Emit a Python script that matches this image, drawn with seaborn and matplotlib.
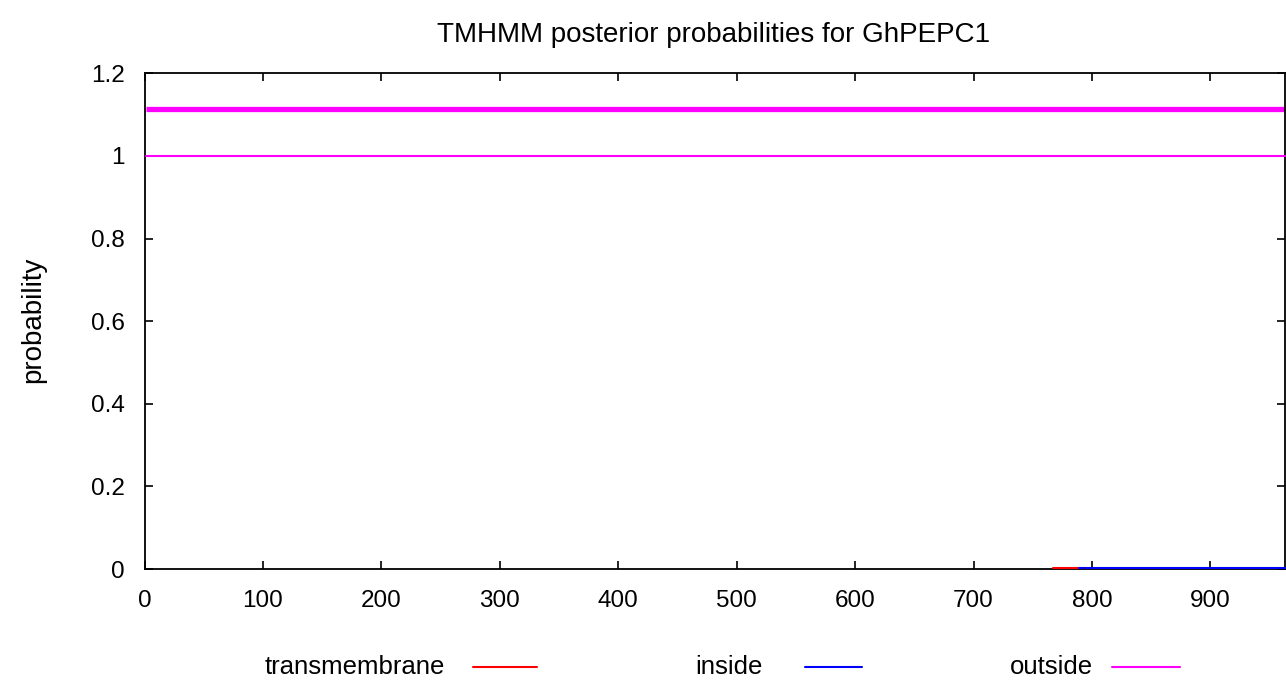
#!/usr/bin/env python

# TMHMM posterior probability plot for GhPEPC1

import pandas as pd
import seaborn as sns
from matplotlib import pyplot as plt
from matplotlib.lines import Line2D

# sequence length and the segments
seq_len = 963

# posterior probability of "outside" over the whole sequence
outside_pos = [1, seq_len]
outside_prob = [1.0, 1.0]

# tiny transmembrane / inside probabilities at the C-terminal end
tm_pos = [767, 789]
tm_prob = [0.003, 0.003]
inside_pos = [789, seq_len]
inside_prob = [0.003, 0.003]

# predicted topology bar (drawn above the curves)
topo_pos = [1, seq_len]
topo_level = [1.113, 1.113]

series = ["transmembrane", "inside", "outside"]
colors = {"transmembrane": "#ff0000", "inside": "#0000ff", "outside": "#ff00ff"}

df = pd.concat([
    pd.DataFrame({"pos": tm_pos, "prob": tm_prob, "kind": "transmembrane"}),
    pd.DataFrame({"pos": inside_pos, "prob": inside_prob, "kind": "inside"}),
    pd.DataFrame({"pos": outside_pos, "prob": outside_prob, "kind": "outside"}),
])

sns.set_theme(style="ticks")
plt.rcParams["font.family"] = ["Liberation Sans", "DejaVu Sans"]
plt.rcParams["text.color"] = "black"

W, H = 1286, 682
fig = plt.figure(figsize=(W / 100, H / 100), dpi=100)
ax = fig.add_axes([144.5 / W, 1 - 569 / H, 1140.5 / W, 495.7 / H])

ax = sns.lineplot(x="pos", y="prob", hue="kind", data=df, palette=colors,
                  hue_order=series, linewidth=1.5, ax=ax, estimator=None,
                  sort=False, legend=False)
# let the near-zero curves sit on top of the bottom frame line
for ln in ax.lines:
    ln.set_zorder(5)
    ln.set_clip_on(False)

# thick line for the predicted topology
ax.plot(topo_pos, topo_level, color="#ff00ff", linewidth=3.8, solid_capstyle="butt")

ax.set_xlim(0, seq_len)
ax.set_ylim(0, 1.2)
ax.set_xticks(range(0, 1000, 100))
ax.set_yticks([0, 0.2, 0.4, 0.6, 0.8, 1, 1.2])
ax.set_yticklabels(["0", "0.2", "0.4", "0.6", "0.8", "1", "1.2"])
ax.tick_params(direction="in", length=6, width=1.2, top=True, right=True,
               labelsize=17.5, colors="black")
ax.tick_params(axis="x", pad=15)
ax.tick_params(axis="y", pad=14)
for s in ax.spines.values():
    s.set_linewidth(1.3)
    s.set_color("black")

ax.set_xlabel("")
ax.set_ylabel("")
fig.text(33 / W, 1 - 320 / H, "probability", rotation=90, ha="center",
         va="center", fontsize=20)
fig.text(714 / W, 1 - 35 / H, "TMHMM posterior probabilities for GhPEPC1",
         ha="center", va="center", fontsize=20)

# legend below the axes: label first, then the line sample
leg_text_end = [445, 763, 1093]
leg_line = [(473, 537), (805, 862), (1112, 1180)]
leg_y = 1 - 667 / H
for name, xe, (x0, x1) in zip(series, leg_text_end, leg_line):
    fig.text(xe / W, leg_y, name, ha="right", va="center", fontsize=18.5)
    fig.add_artist(Line2D([x0 / W, x1 / W], [leg_y, leg_y], color=colors[name],
                          linewidth=1.5, transform=fig.transFigure))

fig.savefig("out.png", dpi=100)
